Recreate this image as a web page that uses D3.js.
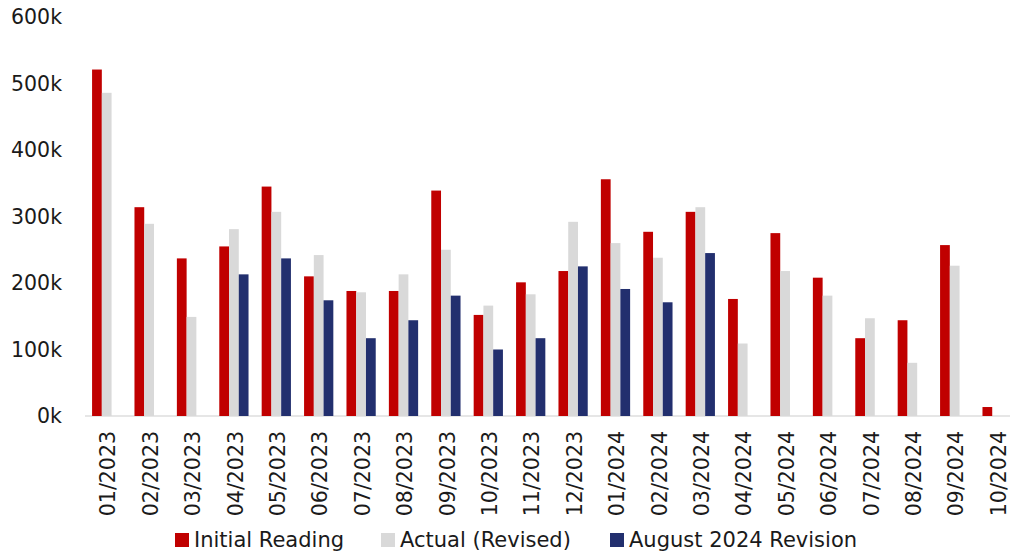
<!DOCTYPE html>
<html>
<head>
<meta charset="utf-8">
<script src="https://cdn.jsdelivr.net/npm/d3@7/dist/d3.min.js"></script>
<style>
  html, body { margin: 0; padding: 0; background: #fff; }
  text { font-family: "DejaVu Sans", sans-serif; fill: #1a1a1a; }
</style>
</head>
<body>
<div id="chart"></div>
<script>
// months on the x axis
const months = ["01/2023","02/2023","03/2023","04/2023","05/2023","06/2023","07/2023","08/2023",
  "09/2023","10/2023","11/2023","12/2023","01/2024","02/2024","03/2024","04/2024","05/2024",
  "06/2024","07/2024","08/2024","09/2024","10/2024"];

// series values (jobs, thousands)
const initialReading = [521, 314, 237, 255, 345, 210, 188, 188, 339, 152, 201, 218,
  356, 277, 307, 176, 275, 208, 117, 144, 257, 13.5];
const actualRevised = [486, 289, 149, 281, 307, 242, 186, 213, 250, 166, 183, 292,
  260, 238, 314, 109, 218, 181, 147, 80, 226, null];
const augustRevision = [null, null, null, 213, 237, 174, 117, 144, 181, 100, 117, 225,
  191, 171, 245, null, null, null, null, null, null, null];

const yTicks = [0, 100, 200, 300, 400, 500, 600];
const seriesNames = ["Initial Reading", "Actual (Revised)", "August 2024 Revision"];
const colors = ["#C00000", "#D9D9D9", "#222F6E"];

const W = 1010, H = 554;
const svg = d3.select("#chart").append("svg")
  .attr("width", W).attr("height", H);

const x = d3.scaleBand().domain(months).range([85.5, 1018.3]).paddingInner(0).paddingOuter(0);
const y = d3.scaleLinear().domain([0, 600]).range([416, 17]);

const groupW = x.bandwidth() * 0.69;
const x1 = d3.scaleBand().domain([0, 1, 2]).range([0, groupW]);

// baseline
svg.append("line")
  .attr("x1", 85).attr("x2", W)
  .attr("y1", y(0)).attr("y2", y(0))
  .attr("stroke", "#e6e6e6").attr("stroke-width", 2);

// y axis labels
svg.append("g").selectAll("text")
  .data(yTicks).join("text")
  .attr("x", 62).attr("y", d => y(d))
  .attr("dy", "0.35em")
  .attr("text-anchor", "end")
  .style("font-size", "20.5px")
  .text(d => d + "k");

// bars
const allSeries = [initialReading, actualRevised, augustRevision];
allSeries.forEach((vals, s) => {
  svg.append("g").selectAll("rect")
    .data(months.map((m, i) => ({ m, v: vals[i] })).filter(d => d.v != null))
    .join("rect")
    .attr("x", d => x(d.m) + (x.bandwidth() - groupW) / 2 + x1(s))
    .attr("width", x1.bandwidth())
    .attr("y", d => y(d.v))
    .attr("height", d => y(0) - y(d.v))
    .attr("fill", colors[s]);
});

// x labels, rotated
svg.append("g").selectAll("text")
  .data(months).join("text")
  .attr("transform", d => `translate(${x(d) + x.bandwidth() / 2 + 1.5},431) rotate(-90)`)
  .attr("dy", "0.35em")
  .attr("text-anchor", "end")
  .style("font-size", "20.5px")
  .text(d => d);

// legend
const legendX = [175, 381, 610];
const legend = svg.append("g");
seriesNames.forEach((name, i) => {
  legend.append("rect")
    .attr("x", legendX[i]).attr("y", 533)
    .attr("width", 14).attr("height", 14)
    .attr("fill", colors[i]);
  legend.append("text")
    .attr("x", legendX[i] + 19).attr("y", 540)
    .attr("dy", "0.35em")
    .style("font-size", "21px")
    .text(name);
});
</script>
</body>
</html>
